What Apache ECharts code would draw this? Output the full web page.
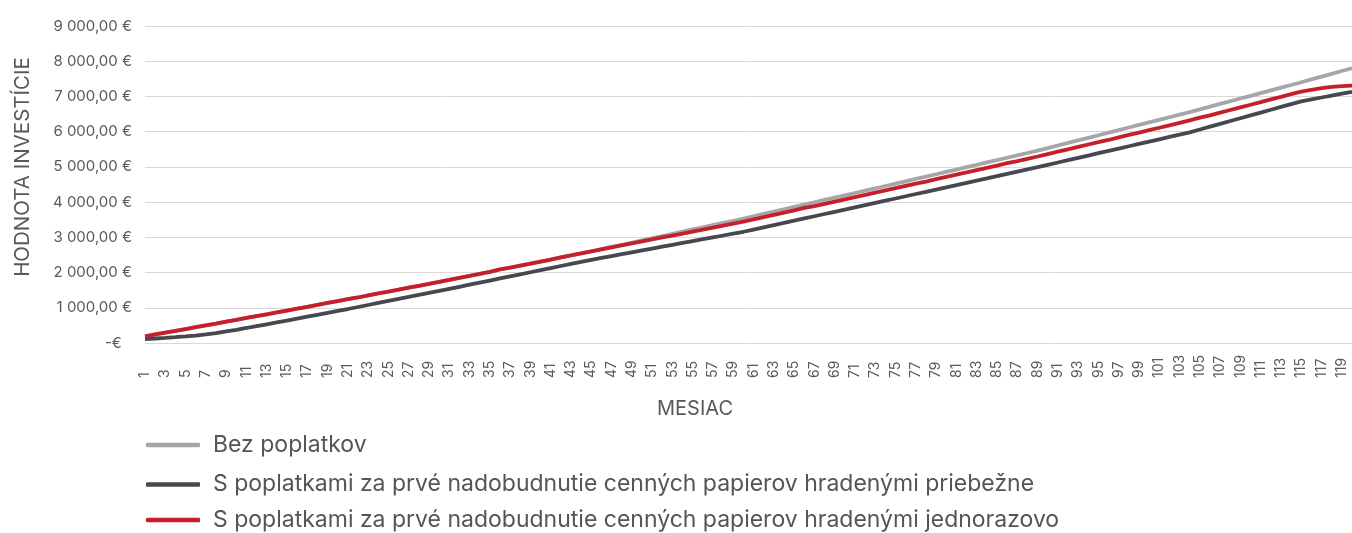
<!DOCTYPE html>
<html>
<head>
<meta charset="utf-8">
<script src="https://cdn.jsdelivr.net/npm/echarts@6/dist/echarts.min.js"></script>
<style>
html,body{margin:0;padding:0;background:#ffffff;}
#chart{width:1352px;height:533px;}
</style>
</head>
<body>
<div id="chart"></div>
<script>
const months = [
  1,2,3,4,5,6,7,8,9,10,11,12,13,14,15,16,17,18,19,20,
  21,22,23,24,25,26,27,28,29,30,31,32,33,34,35,36,37,38,39,40,
  41,42,43,44,45,46,47,48,49,50,51,52,53,54,55,56,57,58,59,60,
  61,62,63,64,65,66,67,68,69,70,71,72,73,74,75,76,77,78,79,80,
  81,82,83,84,85,86,87,88,89,90,91,92,93,94,95,96,97,98,99,100,
  101,102,103,104,105,106,107,108,109,110,111,112,113,114,115,116,117,118,119,120
];

const seriesNames = [
  'Bez poplatkov',
  'S poplatkami za prvé nadobudnutie cenných papierov hradenými priebežne',
  'S poplatkami za prvé nadobudnutie cenných papierov hradenými jednorazovo'
];

const bezPoplatkov = [
  190,242,294,345,397,449,501,553,606,658,
  710,763,816,868,921,974,1028,1082,1136,1190,
  1244,1292,1352,1406,1461,1515,1570,1625,1680,1735,
  1792,1850,1907,1965,2022,2088,2138,2196,2254,2312,
  2370,2428,2486,2545,2603,2665,2727,2789,2851,2913,
  2975,3037,3099,3161,3223,3285,3347,3409,3471,3533,
  3599,3665,3731,3797,3863,3929,3995,4061,4127,4193,
  4259,4325,4391,4457,4523,4590,4657,4724,4791,4858,
  4925,4992,5059,5126,5193,5260,5327,5394,5461,5534,
  5607,5680,5753,5826,5899,5972,6045,6118,6191,6264,
  6337,6410,6483,6556,6633,6710,6787,6864,6941,7018,
  7095,7172,7249,7326,7403,7483,7563,7643,7723,7800
];

const priebezne = [
  110,128,146,166,188,212,242,282,328,376,
  426,478,530,584,638,692,746,800,855,910,
  965,1022,1079,1136,1193,1250,1307,1364,1421,1478,
  1537,1596,1655,1714,1773,1832,1891,1950,2009,2068,
  2127,2186,2245,2304,2363,2416,2469,2522,2575,2628,
  2681,2734,2787,2840,2893,2946,2999,3052,3105,3158,
  3221,3284,3347,3410,3473,3536,3599,3662,3725,3788,
  3851,3914,3977,4040,4103,4166,4230,4293,4357,4420,
  4484,4547,4611,4674,4738,4801,4865,4928,4992,5058,
  5124,5190,5256,5322,5388,5454,5520,5586,5652,5718,
  5784,5850,5916,5982,6062,6142,6222,6302,6382,6462,
  6542,6622,6702,6782,6862,6916,6970,7024,7078,7130
];

const jednorazovo = [
  190,242,294,345,397,449,501,553,606,658,
  710,763,816,868,921,974,1028,1082,1136,1190,
  1244,1292,1352,1406,1461,1515,1570,1625,1680,1735,
  1792,1850,1907,1965,2022,2088,2138,2196,2254,2312,
  2370,2428,2486,2545,2603,2660,2716,2772,2828,2884,
  2940,2996,3046,3108,3164,3220,3276,3332,3390,3448,
  3511,3574,3637,3700,3763,3834,3889,3952,4015,4078,
  4141,4204,4268,4332,4396,4460,4524,4580,4652,4716,
  4780,4844,4908,4972,5036,5108,5165,5230,5295,5363,
  5431,5499,5567,5635,5703,5764,5839,5907,5975,6043,
  6111,6180,6250,6320,6400,6462,6540,6615,6690,6765,
  6840,6915,6990,7065,7135,7190,7235,7270,7295,7310
];

const yTickLabels = [
  '-€\u2002\u2009', '1 000,00 €', '2 000,00 €', '3 000,00 €', '4 000,00 €',
  '5 000,00 €', '6 000,00 €', '7 000,00 €', '8 000,00 €', '9 000,00 €'
];

const colors = ['#a6a6a6', '#46474f', '#c61f2b'];
const FONT = 'Inter';

function legendRow(name, top) {
  return {
    orient: 'vertical',
    left: 141,
    top: top,
    height: 40,
    itemWidth: 54,
    itemHeight: 4.5,
    icon: 'roundRect',
    data: [name],
    textStyle: {
      fontFamily: FONT,
      fontSize: 23,
      lineHeight: 26,
      color: '#555555',
      padding: [0, 0, 0, 8]
    }
  };
}

const chart = echarts.init(document.getElementById('chart'), null, {renderer: 'canvas'});
chart.setOption({
  animation: false,
  backgroundColor: '#ffffff',
  color: colors,
  grid: {left: 145, right: 0, top: 26, bottom: 190, containLabel: false},
  xAxis: {
    type: 'category',
    data: months,
    boundaryGap: false,
    axisLine: {show: true, lineStyle: {color: '#d9d9d9', width: 1}},
    axisTick: {show: false},
    splitLine: {show: false},
    axisLabel: {
      interval: 1,
      rotate: 90,
      align: 'left',
      verticalAlign: 'middle',
      margin: 35,
      fontFamily: FONT,
      fontSize: 14,
      color: '#595959'
    }
  },
  yAxis: {
    type: 'value',
    min: 0,
    max: 9000,
    interval: 1000,
    axisLine: {show: false},
    axisTick: {show: false},
    splitLine: {show: true, lineStyle: {color: '#d9d9d9', width: 1}},
    axisLabel: {
      margin: 13,
      fontFamily: FONT,
      fontSize: 15,
      color: '#595959',
      formatter: function (v) { return yTickLabels[Math.round(v / 1000)]; }
    }
  },
  legend: [
    legendRow(seriesNames[0], 427),
    legendRow(seriesNames[1], 466.5),
    legendRow(seriesNames[2], 502)
  ],
  graphic: [
    {
      type: 'text',
      x: 23,
      y: 167,
      rotation: Math.PI / 2,
      style: {text: 'HODNOTA INVESTÍCIE', font: '20.5px Inter', fill: '#595959', align: 'center', verticalAlign: 'middle'}
    },
    {
      type: 'text',
      x: 695,
      y: 409,
      style: {text: 'MESIAC', font: '20px Inter', fill: '#595959', align: 'center', verticalAlign: 'middle'}
    }
  ],
  series: [
    {name: seriesNames[0], type: 'line', data: bezPoplatkov, showSymbol: false, symbol: 'none',
     lineStyle: {width: 3.8, color: colors[0]}, itemStyle: {color: colors[0]}},
    {name: seriesNames[1], type: 'line', data: priebezne, showSymbol: false, symbol: 'none',
     lineStyle: {width: 3.8, color: colors[1]}, itemStyle: {color: colors[1]}},
    {name: seriesNames[2], type: 'line', data: jednorazovo, showSymbol: false, symbol: 'none',
     lineStyle: {width: 3.8, color: colors[2]}, itemStyle: {color: colors[2]}}
  ]
});
</script>
</body>
</html>
